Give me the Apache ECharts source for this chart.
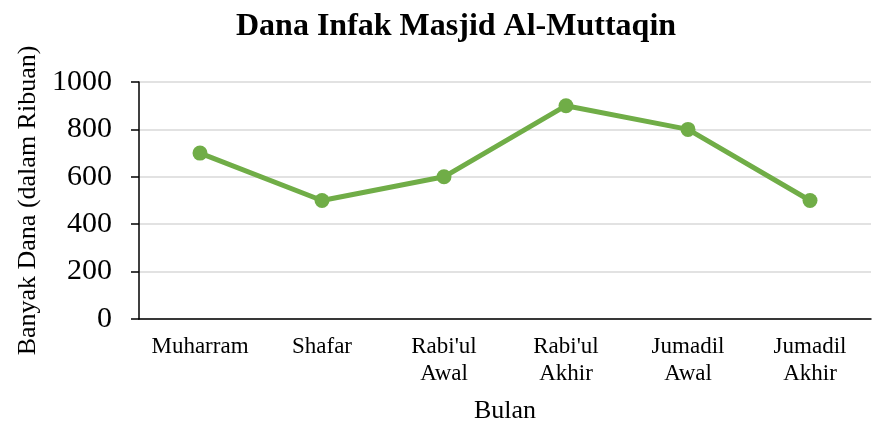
<!DOCTYPE html>
<html>
<head>
<meta charset="utf-8">
<script src="https://cdn.jsdelivr.net/npm/echarts@6/dist/echarts.min.js"></script>
<style>
  html, body { margin: 0; padding: 0; background: #fff; }
  #chart { width: 873px; height: 439px; }
</style>
</head>
<body>
<div id="chart"></div>
<script>
// Monthly mosque donation totals (in thousands)
const months = ['Muharram', 'Shafar', "Rabi'ul\nAwal", "Rabi'ul\nAkhir", 'Jumadil\nAwal', 'Jumadil\nAkhir'];
const donations = [700, 500, 600, 900, 800, 500];
const yTicks = [0, 200, 400, 600, 800, 1000];

const FONT = '"Liberation Serif", "Times New Roman", serif';

const chart = echarts.init(document.getElementById('chart'), null, { renderer: 'canvas' });
chart.setOption({
  backgroundColor: '#ffffff',
  animation: false,
  title: {
    text: 'Dana Infak Masjid Al-Muttaqin',
    left: 236,
    top: 11,
    padding: 0,
    textStyle: { fontFamily: FONT, fontSize: 32, fontWeight: 'bold', color: '#000' }
  },
  grid: { left: 139, right: 2, top: 82, bottom: 120 },
  xAxis: {
    type: 'category',
    data: months,
    boundaryGap: true,
    name: 'Bulan',
    nameLocation: 'middle',
    nameGap: 79,
    nameTextStyle: { fontFamily: FONT, fontSize: 26, color: '#000' },
    axisLine: { lineStyle: { color: '#000', width: 1.5 } },
    axisTick: { show: false },
    axisLabel: {
      fontFamily: FONT, fontSize: 23, color: '#000',
      margin: 14, lineHeight: 27, interval: 0
    }
  },
  yAxis: {
    type: 'value',
    min: yTicks[0],
    max: yTicks[yTicks.length - 1],
    interval: 200,
    name: 'Banyak Dana (dalam Ribuan)',
    nameLocation: 'middle',
    nameGap: 96,
    nameTextStyle: { fontFamily: FONT, fontSize: 26, color: '#000' },
    axisLine: { show: true, lineStyle: { color: '#000', width: 1.5 } },
    axisTick: { show: true, length: 8, lineStyle: { color: '#000', width: 1.5 } },
    axisLabel: {
      fontFamily: FONT, fontSize: 30, color: '#000', margin: 27,
      formatter: v => String(v)
    },
    splitLine: { lineStyle: { color: '#d9d9d9', width: 1.5 } }
  },
  series: [{
    type: 'line',
    data: donations,
    symbol: 'circle',
    symbolSize: 15,
    lineStyle: { color: '#70ad47', width: 5 },
    itemStyle: { color: '#70ad47' }
  }]
});
</script>
</body>
</html>
